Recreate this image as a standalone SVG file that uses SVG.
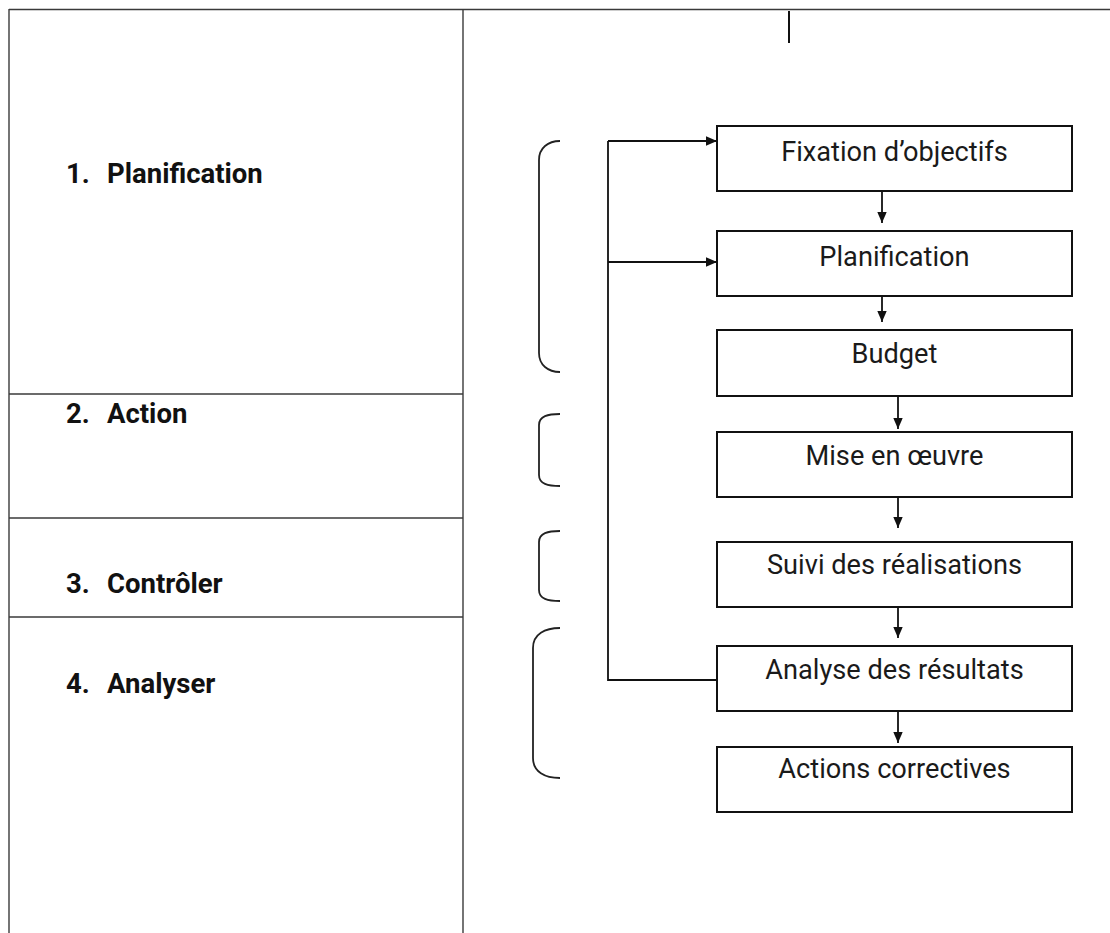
<svg xmlns="http://www.w3.org/2000/svg" width="1110" height="933" viewBox="0 0 1110 933">
  <style>
    .grid { stroke: #3a3a3a; stroke-width: 1.4; fill: none; }
    .box { fill: #ffffff; stroke: #111111; stroke-width: 2; }
    .txt { font-family: Roboto, "Liberation Sans", sans-serif; font-size: 27.2px; fill: #1a1a1a; text-anchor: middle; }
    .lbl { font-family: Roboto, "Liberation Sans", sans-serif; font-size: 27.5px; font-weight: bold; fill: #111111; }
    .brace { fill: none; stroke: #222222; stroke-width: 1.8; }
    .link { fill: none; stroke: #111111; stroke-width: 1.8; }
  </style>
  <defs>
    <marker id="head" markerUnits="userSpaceOnUse" markerWidth="11" markerHeight="11" viewBox="0 0 11 11" refX="11" refY="5.5" orient="auto">
      <path d="M0,0.8 L11,5.5 L0,10.2 Z" fill="#111111"/>
    </marker>
  </defs>

  <rect width="1110" height="933" fill="#ffffff"/>

  <!-- table frame -->
  <g id="table">
    <line class="grid" x1="9" y1="9.5" x2="1110" y2="9.5"/>
    <line class="grid" x1="9" y1="9" x2="9" y2="933"/>
    <line class="grid" x1="463" y1="9" x2="463" y2="933"/>
    <line class="grid" x1="9" y1="394" x2="463" y2="394"/>
    <line class="grid" x1="9" y1="518" x2="463" y2="518"/>
    <line class="grid" x1="9" y1="617" x2="463" y2="617"/>
    <line x1="789" y1="11" x2="789" y2="43" stroke="#111111" stroke-width="2"/>
  </g>

  <!-- stage labels -->
  <g id="stage-1"><text class="lbl" x="66" y="183">1.</text><text class="lbl" x="107" y="183">Planification</text></g>
  <g id="stage-2"><text class="lbl" x="66" y="423">2.</text><text class="lbl" x="107" y="423">Action</text></g>
  <g id="stage-3"><text class="lbl" x="66" y="593">3.</text><text class="lbl" x="107" y="593">Contrôler</text></g>
  <g id="stage-4"><text class="lbl" x="66" y="693">4.</text><text class="lbl" x="107" y="693">Analyser</text></g>

  <!-- brackets grouping the steps -->
  <g id="brackets">
    <path class="brace" d="M560,141 C548,141 539,148 539,160 V353 C539,365 548,372 560,372"/>
    <path class="brace" d="M560,414 C548,414 539,416 539,425 V475 C539,484 548,486 560,486"/>
    <path class="brace" d="M560,531 C548,531 539,533 539,542 V590 C539,599 548,601 560,601"/>
    <path class="brace" d="M560,628 C545,628 533,634 533,648 V758 C533,772 545,778 560,778"/>
  </g>

  <!-- process steps -->
  <g id="step-objectifs"><rect class="box" x="717" y="126" width="355" height="65"/><text class="txt" x="894.5" y="161">Fixation d’objectifs</text></g>
  <g id="step-planification"><rect class="box" x="717" y="231" width="355" height="65"/><text class="txt" x="894.5" y="266">Planification</text></g>
  <g id="step-budget"><rect class="box" x="717" y="330" width="355" height="66"/><text class="txt" x="894.5" y="363">Budget</text></g>
  <g id="step-mise"><rect class="box" x="717" y="432" width="355" height="65"/><text class="txt" x="894.5" y="465">Mise en œuvre</text></g>
  <g id="step-suivi"><rect class="box" x="717" y="542" width="355" height="65"/><text class="txt" x="894.5" y="574">Suivi des réalisations</text></g>
  <g id="step-analyse"><rect class="box" x="717" y="646" width="355" height="65"/><text class="txt" x="894.5" y="679">Analyse des résultats</text></g>
  <g id="step-correctives"><rect class="box" x="717" y="747" width="355" height="65"/><text class="txt" x="894.5" y="778">Actions correctives</text></g>

  <!-- connectors -->
  <g id="connectors">
    <line class="link" x1="882" y1="191" x2="882" y2="223" marker-end="url(#head)"/>
    <line class="link" x1="882" y1="296" x2="882" y2="322" marker-end="url(#head)"/>
    <line class="link" x1="898" y1="396" x2="898" y2="429" marker-end="url(#head)"/>
    <line class="link" x1="898" y1="497" x2="898" y2="528" marker-end="url(#head)"/>
    <line class="link" x1="898" y1="607" x2="898" y2="638" marker-end="url(#head)"/>
    <line class="link" x1="898" y1="711" x2="898" y2="743" marker-end="url(#head)"/>
    <!-- feedback loop from the analysis back to the first steps -->
    <polyline class="link" points="717,680 608,680 608,141"/>
    <line class="link" x1="608" y1="141" x2="717" y2="141" marker-end="url(#head)"/>
    <line class="link" x1="608" y1="262" x2="717" y2="262" marker-end="url(#head)"/>
  </g>
</svg>
